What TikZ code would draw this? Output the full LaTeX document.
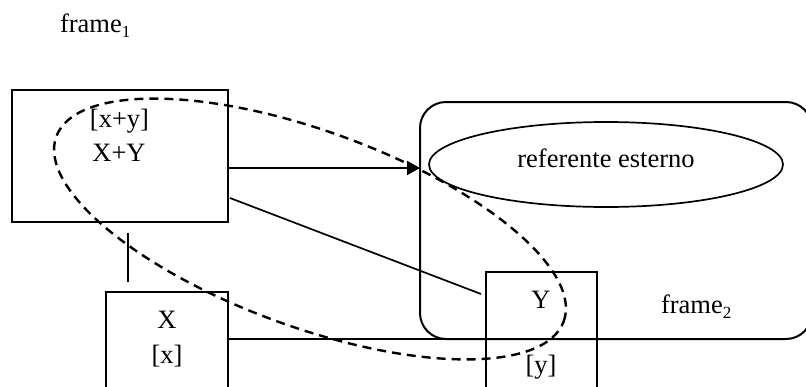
\documentclass[tikz,border=0pt]{standalone}
\usepackage{fontspec}
\setmainfont{Liberation Serif}
\usetikzlibrary{shapes.geometric,arrows.meta}
\newcommand{\lowidx}[1]{\raisebox{-5pt}{\fontsize{17}{17}\selectfont #1}}
\begin{document}
\begin{tikzpicture}[x=1pt,y=-1pt,
  every node/.style={font=\fontsize{26.5}{30}\selectfont, inner sep=0pt, outer sep=0pt},
  boxline/.style={line width=2pt},
  termbox/.style={draw, boxline, rectangle},
  txt/.style={anchor=base},
  link/.style={line width=1.7pt},
  group/.style={draw, ellipse, line width=2.4pt, dash pattern=on 9pt off 6pt},
  arrowline/.style={line width=2.2pt, -{Triangle[length=13pt,width=14pt]}}]
\useasboundingbox (0,0) rectangle (806,386);
\clip (0,0) rectangle (806,386);

% frame labels
\node[anchor=base west] (lab1) at (60,32) {frame\lowidx{1}};
\node[anchor=base west] (lab2) at (661,313) {frame\lowidx{2}};

% second frame with the external referent
\node[draw, boxline, rounded corners=26pt, minimum width=392pt, minimum height=237pt]
  (f2) at (616,220.5) {};
\node[draw, ellipse, line width=1.7pt, minimum width=354pt, minimum height=85pt]
  (ext) at (606,164.5) {};
\node[txt] (exttxt) at (606,167) {referente esterno};

% the compound term and its parts
\node[termbox, minimum width=216pt, minimum height=132pt] (xy) at (120,156) {};
\node[txt] (xyb) at (119.5,127) {[x+y]};
\node[txt] (xyn) at (119,161) {X+Y};

\node[termbox, minimum width=122pt, minimum height=150pt] (xb) at (167,367) {};
\node[txt] (xn) at (167,328) {X};
\node[txt] (xbr) at (167,363) {[x]};

\node[termbox, minimum width=111pt, minimum height=150pt] (yb) at (541.5,347) {};
\node[txt] (yn) at (541,308) {Y};
\node[txt] (ybr) at (541,373) {[y]};

% connectors
\coordinate (vtop) at (128,233);
\coordinate (vbot) at (128,282);
\draw[link] (vtop) -- (vbot);
\draw[arrowline] ([yshift=-12pt]xy.east) -- ([yshift=-12pt]xy.east -| f2.west);
\draw[link] ([shift={(2pt,-42pt)}]xy.east) -- ([shift={(-5pt,-22pt)}]yb.north west);
\draw[boxline] (xb.east |- f2.south) -- (yb.west |- f2.south);

% dashed grouping of X+Y with Y
\node[group, minimum width=540pt, minimum height=196pt, rotate=-20] (grp) at (310,229) {};
\end{tikzpicture}
\end{document}
